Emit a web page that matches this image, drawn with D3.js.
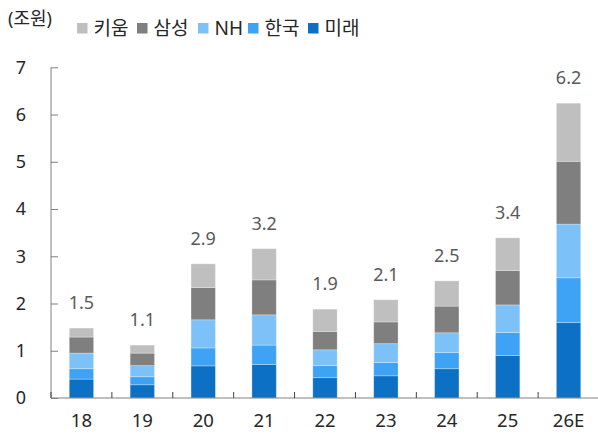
<!DOCTYPE html>
<html>
<head>
<meta charset="utf-8">
<script src="https://cdn.jsdelivr.net/npm/d3@7"></script>
<style>
	body { margin: 0; background: #fff; }
	svg text { font-family: "Noto Sans", "Noto Sans CJK KR", sans-serif; }
</style>
</head>
<body>
<svg id="chart" width="598" height="436"></svg>
<script>
// data (조원)
var years = ["18", "19", "20", "21", "22", "23", "24", "25", "26E"],
	series = ["미래", "한국", "NH", "삼성", "키움"],
	legendOrder = ["키움", "삼성", "NH", "한국", "미래"],
	mirae   = [0.40, 0.28, 0.68, 0.71, 0.43, 0.47, 0.62, 0.90, 1.60],
	hankook = [0.22, 0.17, 0.38, 0.41, 0.255, 0.28, 0.34, 0.485, 0.945],
	nh      = [0.33, 0.235, 0.595, 0.64, 0.335, 0.40, 0.42, 0.585, 1.135],
	samsung = [0.34, 0.265, 0.685, 0.74, 0.39, 0.46, 0.565, 0.73, 1.33],
	kiwoom  = [0.19, 0.17, 0.50, 0.66, 0.47, 0.47, 0.535, 0.69, 1.23],
	totalLabels = ["1.5", "1.1", "2.9", "3.2", "1.9", "2.1", "2.5", "3.4", "6.2"],
	yTicks = [0, 1, 2, 3, 4, 5, 6, 7],
	colors = {"미래": "#0c70c4", "한국": "#3fa3f5", "NH": "#7cc1f8", "삼성": "#7f7f7f", "키움": "#bfbfbf"};

var seriesValues = {"미래": mirae, "한국": hankook, "NH": nh, "삼성": samsung, "키움": kiwoom};

var plotLeft = 51, plotRight = 599, plotTop = 67.3, plotBottom = 398;

var rows = years.map(function(yr, i){
	var r = {year: yr, label: totalLabels[i]};
	series.forEach(function(s){ r[s] = seriesValues[s][i]; });
	return r;
});

var stacked = d3.stack().keys(series)(rows);

var svg = d3.select("#chart");

var x = d3.scaleBand()
	.domain(years)
	.range([plotLeft, plotRight])
	.paddingInner(0.6)
	.paddingOuter(0.3);

var y = d3.scaleLinear()
	.domain([0, 7])
	.range([plotBottom, plotTop]);

// bars
svg.append("g")
	.selectAll("g")
	.data(stacked)
	.join("g")
	.attr("fill", function(d){ return colors[d.key]; })
	.selectAll("rect")
	.data(function(d){ return d; })
	.join("rect")
	.attr("x", function(d){ return x(d.data.year); })
	.attr("y", function(d){ return y(d[1]); })
	.attr("width", x.bandwidth())
	.attr("height", function(d){ return y(d[0]) - y(d[1]); })
	.attr("stroke", "#ffffff")
	.attr("stroke-opacity", 0.35)
	.attr("stroke-width", 0.8);

// total labels
var topSeries = stacked[stacked.length - 1];
svg.append("g")
	.selectAll("text")
	.data(topSeries)
	.join("text")
	.attr("x", function(d){ return x(d.data.year) + x.bandwidth()/2; })
	.attr("y", function(d){ return y(d[1]) - 19; })
	.attr("text-anchor", "middle")
	.attr("font-size", "18px")
	.attr("fill", "#595959")
	.text(function(d){ return d.data.label; });

// y axis
var yAxis = svg.append("g")
	.attr("transform", "translate(" + plotLeft + ",0)")
	.call(d3.axisRight(y).tickValues(yTicks).tickSize(7).tickFormat(d3.format("d")));
yAxis.select(".domain").attr("stroke", "#808080").attr("d", "M0," + plotTop + "V" + plotBottom);
yAxis.selectAll(".tick line").attr("stroke", "#808080");
yAxis.selectAll(".tick text")
	.attr("x", -30)
	.attr("text-anchor", "middle")
	.attr("font-size", "18px")
	.attr("fill", "#262626");

// x axis
var xAxis = svg.append("g")
	.attr("transform", "translate(0," + plotBottom + ")")
	.call(d3.axisBottom(x).tickSize(0));
xAxis.select(".domain").attr("stroke", "#808080").attr("d", "M" + plotLeft + ",0H" + plotRight);
xAxis.selectAll(".tick text")
	.attr("y", 29)
	.attr("dy", "0")
	.attr("font-size", "18.5px")
	.attr("fill", "#262626");

// category boundary ticks, pointing up into the plot
var step = x.step();
var bounds = d3.range(years.length).map(function(i){ return x(years[i]) - (step - x.bandwidth())/2; });
svg.append("g")
	.selectAll("line")
	.data(bounds)
	.join("line")
	.attr("x1", function(d){ return d; })
	.attr("x2", function(d){ return d; })
	.attr("y1", plotBottom - 6)
	.attr("y2", plotBottom)
	.attr("stroke", "#404040");

// unit label
svg.append("text")
	.attr("x", 8)
	.attr("y", 25)
	.attr("font-size", "18px")
	.attr("fill", "#262626")
	.text("(조원)");

// legend
var legendX = [77, 137, 198, 248, 308];
var legend = svg.append("g")
	.selectAll("g")
	.data(legendOrder)
	.join("g")
	.attr("transform", function(d, i){ return "translate(" + legendX[i] + ",23)"; });
legend.append("rect")
	.attr("width", 10.5)
	.attr("height", 10.5)
	.attr("fill", function(d){ return colors[d]; });
legend.append("text")
	.attr("x", 16.5)
	.attr("y", 12)
	.attr("font-size", "19px")
	.attr("fill", "#262626")
	.text(function(d){ return d; });
</script>
</body>
</html>
